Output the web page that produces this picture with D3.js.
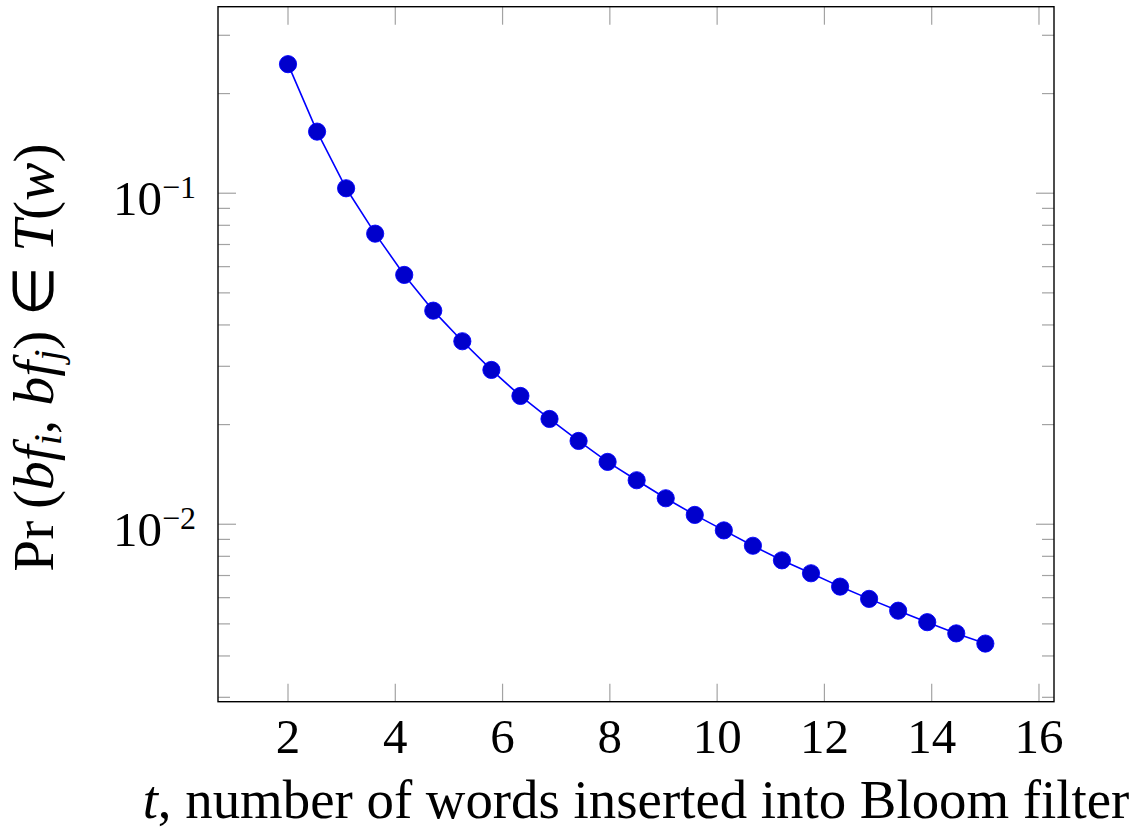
<!DOCTYPE html>
<html>
<head>
<meta charset="utf-8">
<script src="https://cdn.jsdelivr.net/npm/d3@7"></script>
<style>
  body { margin: 0; background: #ffffff; }
  text { font-family: "Liberation Serif", "Times New Roman", serif; fill: #000; }
</style>
</head>
<body>
<svg id="chart" width="1142" height="834"></svg>
<script>
// t: number of words inserted into the Bloom filter
const wordsInserted = [
  2.000, 2.542, 3.083, 3.625, 4.167, 4.708, 5.250, 5.792, 6.333, 6.875,
  7.417, 7.958, 8.500, 9.042, 9.583, 10.125, 10.667, 11.208, 11.750, 12.292,
  12.833, 13.375, 13.917, 14.458, 15.000
];
// Pr((bf_i, bf_j) in T(w))
const pairProbability = [
  0.2454, 0.1535, 0.1035, 0.07548, 0.05665, 0.04418, 0.03571, 0.02925, 0.02441, 0.02080,
  0.01785, 0.01543, 0.01358, 0.01198, 0.01067, 0.00958, 0.00861, 0.00778, 0.00711, 0.00648,
  0.00595, 0.00548, 0.00506, 0.00468, 0.00436
];
const xTickValues = [2, 4, 6, 8, 10, 12, 14, 16];
const yMajorTicks = [0.01, 0.1];
const yMajorExponents = ["\u22122", "\u22121"];

const svg = d3.select("#chart");
const plot = { left: 218, right: 1054, top: 6.7, bottom: 701.7 };

const x = d3.scaleLinear().domain([0.695, 16.28]).range([plot.left, plot.right]);
const y = d3.scaleLog().domain([0.00291, 0.366]).range([plot.bottom, plot.top]);

// minor log ticks: 2..9 times each decade inside the domain
const yMinorTicks = [];
[0.001, 0.01, 0.1].forEach(d => {
  for (let m = 2; m <= 9; m++) {
    const v = m * d;
    if (v > y.domain()[0] && v < y.domain()[1]) yMinorTicks.push(v);
  }
});

const tickColor = "#a3a3a3";
const majorLen = 18, minorLen = 12;
const ticks = svg.append("g").attr("stroke", tickColor).attr("stroke-width", 1.2);

// x ticks, bottom and top, pointing inward
xTickValues.forEach(v => {
  ticks.append("line").attr("x1", x(v)).attr("x2", x(v))
    .attr("y1", plot.bottom).attr("y2", plot.bottom - majorLen);
  ticks.append("line").attr("x1", x(v)).attr("x2", x(v))
    .attr("y1", plot.top).attr("y2", plot.top + majorLen);
});
// y ticks, left and right
yMajorTicks.forEach(v => {
  ticks.append("line").attr("y1", y(v)).attr("y2", y(v))
    .attr("x1", plot.left).attr("x2", plot.left + majorLen);
  ticks.append("line").attr("y1", y(v)).attr("y2", y(v))
    .attr("x1", plot.right).attr("x2", plot.right - majorLen);
});
yMinorTicks.forEach(v => {
  ticks.append("line").attr("y1", y(v)).attr("y2", y(v))
    .attr("x1", plot.left).attr("x2", plot.left + minorLen);
  ticks.append("line").attr("y1", y(v)).attr("y2", y(v))
    .attr("x1", plot.right).attr("x2", plot.right - minorLen);
});

// frame
svg.append("rect")
  .attr("x", plot.left).attr("y", plot.top)
  .attr("width", plot.right - plot.left).attr("height", plot.bottom - plot.top)
  .attr("fill", "none").attr("stroke", "#000").attr("stroke-width", 1.4);

// x tick labels
svg.append("g").selectAll("text").data(xTickValues).join("text")
  .attr("x", d => x(d)).attr("y", 753)
  .attr("text-anchor", "middle")
  .attr("font-size", 49)
  .text(d => d);

// y tick labels as 10^k
yMajorTicks.forEach((v, i) => {
  const t = svg.append("text")
    .attr("x", 196).attr("y", y(v) + 21.5)
    .attr("text-anchor", "end")
    .attr("font-size", 49);
  t.append("tspan").text("10");
  t.append("tspan").attr("font-size", 32).attr("dy", -17).text(yMajorExponents[i]);
});

// series line and markers
const line = d3.line().x((d, i) => x(wordsInserted[i])).y(d => y(d));
svg.append("path").datum(pairProbability)
  .attr("d", line)
  .attr("fill", "none").attr("stroke", "#0000ff").attr("stroke-width", 1.6);

svg.append("g").selectAll("circle").data(pairProbability).join("circle")
  .attr("cx", (d, i) => x(wordsInserted[i]))
  .attr("cy", d => y(d))
  .attr("r", 8.6)
  .attr("fill", "#0000cc")
  .attr("stroke", "#0000ff").attr("stroke-width", 0.9);

// fit a text element to a given length by adjusting its font size
function fitWidth(sel, target) {
  const len = sel.node().getComputedTextLength();
  const fs = parseFloat(sel.attr("font-size"));
  sel.attr("font-size", fs * target / len);
}

// x axis title
const xTitle = svg.append("text")
  .attr("x", 636).attr("y", 818)
  .attr("text-anchor", "middle")
  .attr("font-size", 48);
xTitle.append("tspan").attr("font-style", "italic").text("t");
xTitle.append("tspan").text(", number of words inserted into Bloom filter");
fitWidth(xTitle, 987);

// y axis title
const yTitle = svg.append("text")
  .attr("transform", "translate(53,357.5) rotate(-90)")
  .attr("text-anchor", "middle")
  .attr("font-size", 50);
yTitle.append("tspan").text("Pr\u2009(");
yTitle.append("tspan").attr("font-style", "italic").text("bf");
yTitle.append("tspan").attr("font-style", "italic").attr("font-size", "0.7em").attr("dy", 8).text("i");
yTitle.append("tspan").attr("dy", -8).text(", ");
yTitle.append("tspan").attr("font-style", "italic").text("bf");
yTitle.append("tspan").attr("font-style", "italic").attr("font-size", "0.7em").attr("dy", 8).text("j");
yTitle.append("tspan").attr("dy", -8).text(") \u2208 ");
yTitle.append("tspan").attr("font-style", "italic").text("T");
yTitle.append("tspan").text("(");
yTitle.append("tspan").attr("font-style", "italic").text("w");
yTitle.append("tspan").text(")");
fitWidth(yTitle, 429);
</script>
</body>
</html>
